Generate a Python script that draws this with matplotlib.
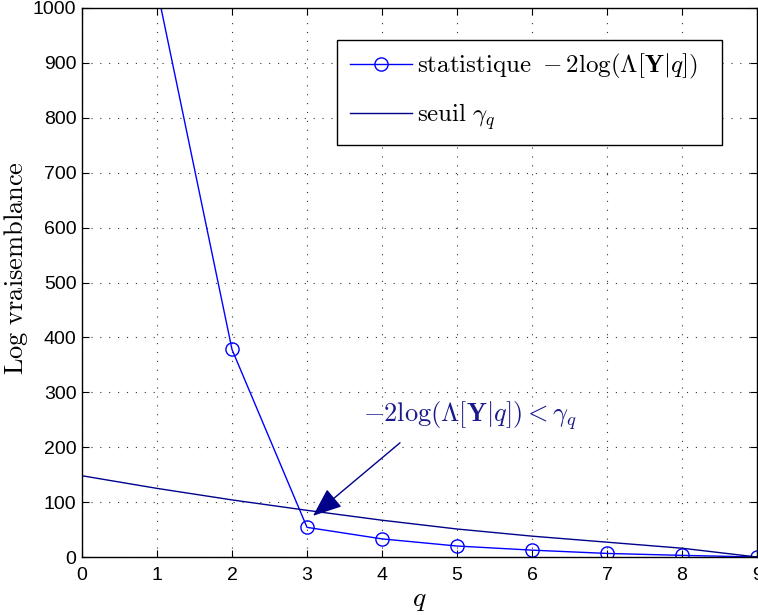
import matplotlib
matplotlib.use("Agg")
import matplotlib.pyplot as plt

plt.rcParams['mathtext.fontset'] = 'cm'
plt.rcParams['font.family'] = ['Liberation Sans', 'DejaVu Sans']

q = [1, 2, 3, 4, 5, 6, 7, 8, 9]
statistique = [1035, 378, 54, 33, 20, 12.5, 6.5, 3, 0]
q_seuil = [0, 1, 2, 3, 4, 5, 6, 7, 8, 9]
seuil = [148, 125, 104, 85, 67, 51, 38, 27, 16, 0]
xticks = list(range(0, 10))
yticks = list(range(0, 1001, 100))

fig = plt.figure(figsize=(7.58, 6.15), dpi=100)
ax = fig.add_axes([0.1082, 0.0943, 0.8905, 0.8927])

ax.plot(q, statistique, color='#0000ff', lw=1.0, marker='o', ms=9.5,
        mfc='none', mec='#0000ff', mew=1.0,
        label=r'$\mathrm{statistique}\ -2\log(\Lambda[\mathbf{Y}|q])$')
ax.plot(q_seuil, seuil, color='#00008b', lw=1.0, label=r'$\mathrm{seuil}\ \gamma_q$')

ax.set_xlim(0, 9)
ax.set_ylim(0, 1000)
ax.set_xticks(xticks)
ax.set_yticks(yticks)
ax.tick_params(direction='in', top=True, right=True, labelsize=14, length=5, width=0.8)
ax.tick_params(axis='x', pad=7)
ax.tick_params(axis='y', pad=4)
ax.grid(True, linestyle=(0, (1, 7)), color='#333333', lw=0.8)
for s in ax.spines.values():
    s.set_linewidth(1.0)

ax.set_xlabel(r'$q$', fontsize=20, labelpad=2)
ax.set_ylabel(r'$\mathrm{Log\ vraisemblance}$', fontsize=19)
ax.yaxis.set_label_coords(-0.077, 0.526)

ax.annotate('', xy=(3.08, 75), xytext=(4.24, 208),
            arrowprops=dict(arrowstyle='-|>,head_length=1.0,head_width=0.4', color='#00008b', lw=1.0,
                            shrinkA=0, shrinkB=0, mutation_scale=18))
ax.text(5.17, 257, r'$-2\log(\Lambda[\mathbf{Y}|q]) < \gamma_q$', color='#1a1a8c', fontsize=19,
        ha='center', va='center')

leg = ax.legend(loc='upper left', bbox_to_anchor=(0.378, 0.842, 0.570, 0.1), mode='expand',
                borderaxespad=0, fontsize=18,
                frameon=True, fancybox=False, edgecolor='black', framealpha=1, handlelength=2.5,
                handletextpad=0.2, borderpad=0.5, labelspacing=0.8)
leg.get_frame().set_linewidth(1.0)

fig.savefig('out.png', dpi=100)
